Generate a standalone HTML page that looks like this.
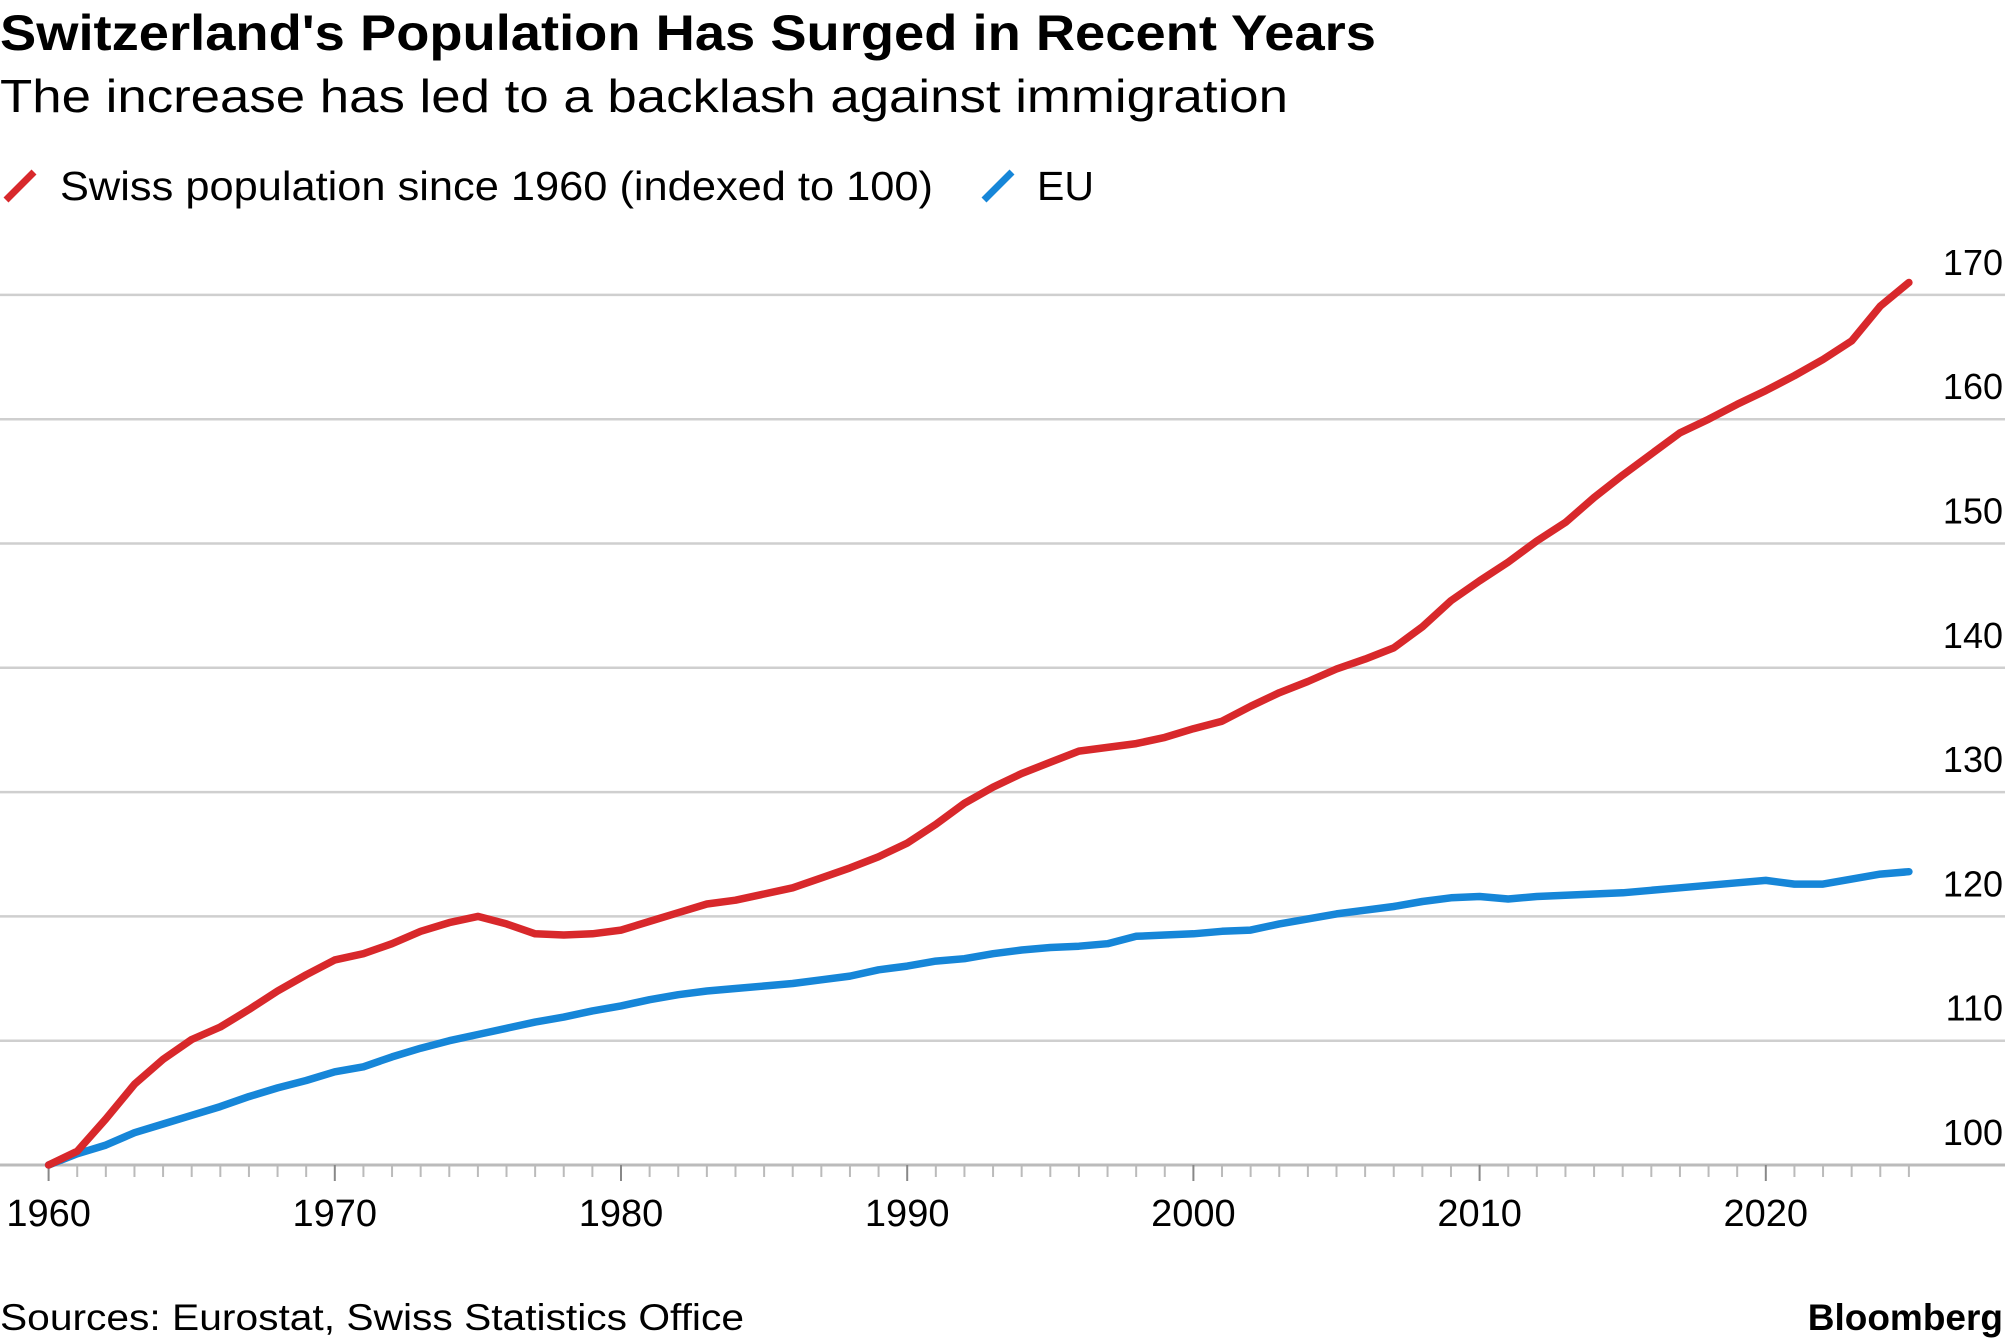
<!DOCTYPE html>
<html><head><meta charset="utf-8"><style>
html,body{margin:0;padding:0;background:#fff;width:2005px;height:1344px;overflow:hidden;font-family:"Liberation Sans",sans-serif;color:#000}
</style></head><body>
<svg width="2005" height="1344" viewBox="0 0 2005 1344" xmlns="http://www.w3.org/2000/svg">
<text x="0" y="50" font-size="50" font-weight="bold" font-family="Liberation Sans" textLength="1376" lengthAdjust="spacingAndGlyphs">Switzerland's Population Has Surged in Recent Years</text>
<text x="0" y="112" font-size="46" font-family="Liberation Sans" textLength="1288" lengthAdjust="spacingAndGlyphs">The increase has led to a backlash against immigration</text>
<g>
<line x1="6" y1="200" x2="34" y2="172" stroke="#d8282b" stroke-width="7"/>
<text x="60" y="200" font-size="41" font-family="Liberation Sans" textLength="873" lengthAdjust="spacingAndGlyphs">Swiss population since 1960 (indexed to 100)</text>
<line x1="984" y1="200" x2="1012" y2="172" stroke="#1686d8" stroke-width="7"/>
<text x="1037" y="200" font-size="41" font-family="Liberation Sans">EU</text>
</g>
<g id="grid"></g><g id="ticks"></g><g id="lines"></g>
<text x="0" y="1330" font-size="37" font-family="Liberation Sans" textLength="744" lengthAdjust="spacingAndGlyphs">Sources: Eurostat, Swiss Statistics Office</text>
<text x="2003" y="1330" font-size="37" font-weight="bold" text-anchor="end" font-family="Liberation Sans">Bloomberg</text>
</svg>
<script>
const years=[1960,1961,1962,1963,1964,1965,1966,1967,1968,1969,1970,1971,1972,1973,1974,1975,1976,1977,1978,1979,1980,1981,1982,1983,1984,1985,1986,1987,1988,1989,1990,1991,1992,1993,1994,1995,1996,1997,1998,1999,2000,2001,2002,2003,2004,2005,2006,2007,2008,2009,2010,2011,2012,2013,2014,2015,2016,2017,2018,2019,2020,2021,2022,2023,2024,2025];
const swiss=[100,101.1,103.7,106.5,108.5,110.1,111.1,112.5,114.0,115.3,116.5,117.0,117.8,118.8,119.5,120.0,119.4,118.6,118.5,118.6,118.9,119.6,120.3,121.0,121.3,121.8,122.3,123.1,123.9,124.8,125.9,127.4,129.1,130.4,131.5,132.4,133.3,133.6,133.9,134.4,135.1,135.7,136.9,138.0,138.9,139.9,140.7,141.6,143.3,145.4,147.0,148.5,150.2,151.7,153.7,155.5,157.2,158.9,160.0,161.2,162.3,163.5,164.8,166.3,169.1,171.0];
const eu=[100,100.9,101.6,102.6,103.3,104.0,104.7,105.5,106.2,106.8,107.5,107.9,108.7,109.4,110.0,110.5,111.0,111.5,111.9,112.4,112.8,113.3,113.7,114.0,114.2,114.4,114.6,114.9,115.2,115.7,116.0,116.4,116.6,117.0,117.3,117.5,117.6,117.8,118.4,118.5,118.6,118.8,118.9,119.4,119.8,120.2,120.5,120.8,121.2,121.5,121.6,121.4,121.6,121.7,121.8,121.9,122.1,122.3,122.5,122.7,122.9,122.6,122.6,123.0,123.4,123.6];
const yTicks=[100,110,120,130,140,150,160,170];
const xTicks=[1960,1970,1980,1990,2000,2010,2020];
const NS='http://www.w3.org/2000/svg';
const x=v=>48.6+(v-1960)*28.62;
const y=v=>1165-(v-100)*12.43;
function mk(t,a,p){const e=document.createElementNS(NS,t);for(const k in a)e.setAttribute(k,a[k]);p.appendChild(e);return e;}
const grid=document.getElementById('grid'),ticks=document.getElementById('ticks'),lines=document.getElementById('lines');
yTicks.forEach(v=>{
 const l=mk('line',{x1:0,x2:2005,y1:y(v),y2:y(v),stroke:v===100?'#bbb':'#cfcfcf','stroke-width':v===100?3:2.5},grid);
 
 
 const t=mk('text',{x:2003,y:y(v)-20,'font-size':36,'text-anchor':'end','font-family':'Liberation Sans'},grid);
 t.textContent=v;
 
 
});
for(let yr=1960;yr<=2025;yr++){
 const major=xTicks.includes(yr);
 const l=mk('line',{x1:x(yr),x2:x(yr),y1:1165,y2:1165+(major?16:12),stroke:major?'#888':'#bbb','stroke-width':2},ticks);
 
 
}
xTicks.forEach(v=>{
 const t=mk('text',{x:x(v),y:1226,'font-size':38,'text-anchor':'middle','font-family':'Liberation Sans'},ticks);
 t.textContent=v;
 
 
});
function series(arr,color,name){
 const d=arr.map((v,i)=>(i?'L':'M')+x(years[i]).toFixed(1)+','+y(v).toFixed(1)).join('');
 const p=mk('path',{d:d,fill:'none',stroke:color,'stroke-width':7.5,'stroke-linejoin':'round','stroke-linecap':'round'},lines);
 
 
}
series(eu,'#1686d8','eu-line');
series(swiss,'#d8282b','swiss-line');
</script>
</body></html>
